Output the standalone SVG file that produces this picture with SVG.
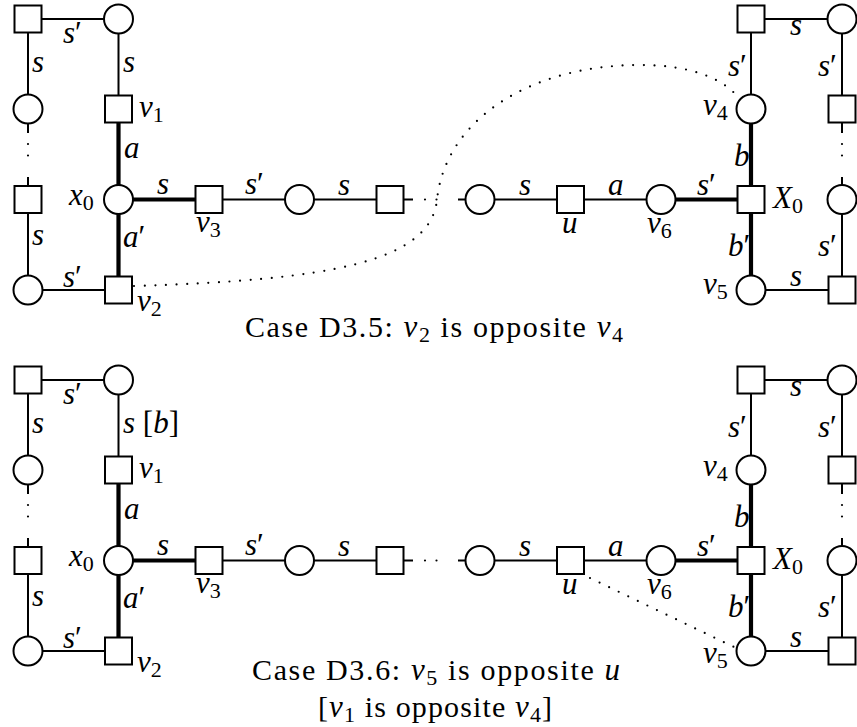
<svg xmlns="http://www.w3.org/2000/svg" xmlns:xlink="http://www.w3.org/1999/xlink" width="857" height="727" viewBox="0 0 857 727">
  <style>
    .e { stroke: #000; stroke-width: 2; fill: none; }
    .k { stroke: #000; stroke-width: 4.2; fill: none; }
    .d { stroke: #000; stroke-width: 2.2; fill: none; stroke-linecap: round; stroke-dasharray: 0 11.5; }
    .dc { stroke: #000; stroke-width: 2.2; fill: none; stroke-linecap: round; stroke-dasharray: 0 10.6; }
    .nd { fill: #fff; stroke: #000; stroke-width: 2; }
    text { font-family: 'Liberation Serif', 'Times New Roman', Times, 'DejaVu Serif', 'Noto Serif', serif; fill: #000; }
    .m { font-style: italic; font-size: 31px; }
    .r { font-style: normal; }
    .sb { font-style: normal; font-size: 22px; }
    .cap { font-size: 30px; }
  </style>
  <defs>
    <rect id="sq" class="nd" x="-13.5" y="-13.5" width="27" height="27"/>
    <circle id="ci" class="nd" r="14.5"/>
  </defs>

  <!-- ===== Case D3.5 ===== -->
  <g id="case-d35">
    <g id="d35-connectors">
      <!-- left cycle -->
      <path class="e" d="M28,19 H118.5 M28,19 V109 M28,109 V133 M28,177 V290 M28,290 H118.5 M118.5,19 V109"/>
      <path class="d" d="M28,144 V167"/>
      <!-- spine around x0 -->
      <path class="k" d="M118.5,109 V290 M118.5,199.5 H209"/>
      <!-- horizontal path -->
      <path class="e" d="M209,199.5 H413 M458,199.5 H661"/>
      <path class="d" d="M425,199.5 H448"/>
      <path class="k" d="M661,199.5 H751 M751,109 V290"/>
      <!-- right cycle -->
      <path class="e" d="M751,19 H842 M751,19 V109 M842,19 V133 M842,177 V290 M751,290 H842"/>
      <path class="d" d="M842,144 V167"/>
      <!-- v2 opposite v4 -->
      <path class="dc" d="M134,286 C330,280 430,262 437,200 C445,120 530,65 640,65 C690,65 722,78 738,97"/>
      <!-- edge labels -->
      <text class="m" x="63" y="43">s<tspan class="r">′</tspan></text>
      <text class="m" x="32" y="72">s</text>
      <text class="m" x="123" y="72">s</text>
      <text class="m" x="124" y="158">a</text>
      <text class="m" x="157" y="194">s</text>
      <text class="m" x="123" y="247">a<tspan class="r">′</tspan></text>
      <text class="m" x="32" y="245">s</text>
      <text class="m" x="63" y="287">s<tspan class="r">′</tspan></text>
      <text class="m" x="245" y="194">s<tspan class="r">′</tspan></text>
      <text class="m" x="338" y="195">s</text>
      <text class="m" x="519" y="195">s</text>
      <text class="m" x="608" y="195">a</text>
      <text class="m" x="697" y="195">s<tspan class="r">′</tspan></text>
      <text class="m" x="728" y="76">s<tspan class="r">′</tspan></text>
      <text class="m" x="790" y="35">s</text>
      <text class="m" x="818" y="76">s<tspan class="r">′</tspan></text>
      <text class="m" x="734" y="166">b</text>
      <text class="m" x="728" y="256">b<tspan class="r">′</tspan></text>
      <text class="m" x="818" y="256">s<tspan class="r">′</tspan></text>
      <text class="m" x="790" y="286">s</text>
    </g>
    <!-- left cycle nodes -->
    <g id="d35-l1"><use xlink:href="#sq" x="28" y="19"/></g>
    <g id="d35-l2"><use xlink:href="#ci" x="28" y="109"/></g>
    <g id="d35-l3"><use xlink:href="#sq" x="28" y="199.5"/></g>
    <g id="d35-l4"><use xlink:href="#ci" x="28" y="290"/></g>
    <g id="d35-top"><use xlink:href="#ci" x="118.5" y="19"/></g>
    <g id="d35-v1"><use xlink:href="#sq" x="118.5" y="109"/>
      <text class="m" x="139" y="117">v<tspan class="sb" dy="5">1</tspan></text></g>
    <g id="d35-x0"><use xlink:href="#ci" x="118.5" y="199.5"/>
      <text class="m" x="69" y="205">x<tspan class="sb" dy="5">0</tspan></text></g>
    <g id="d35-v2"><use xlink:href="#sq" x="118.5" y="290"/>
      <text class="m" x="137" y="311">v<tspan class="sb" dy="5">2</tspan></text></g>
    <!-- horizontal path nodes -->
    <g id="d35-v3"><use xlink:href="#sq" x="209" y="199.5"/>
      <text class="m" x="196" y="232">v<tspan class="sb" dy="5">3</tspan></text></g>
    <g id="d35-h1"><use xlink:href="#ci" x="299.5" y="199.5"/></g>
    <g id="d35-h2"><use xlink:href="#sq" x="390" y="199.5"/></g>
    <g id="d35-h3"><use xlink:href="#ci" x="480" y="199.5"/></g>
    <g id="d35-u"><use xlink:href="#sq" x="570.5" y="199.5"/>
      <text class="m" x="562" y="233">u</text></g>
    <g id="d35-v6"><use xlink:href="#ci" x="661" y="199.5"/>
      <text class="m" x="647" y="233">v<tspan class="sb" dy="5">6</tspan></text></g>
    <!-- right cycle nodes -->
    <g id="d35-r0"><use xlink:href="#sq" x="751" y="19"/></g>
    <g id="d35-v4"><use xlink:href="#ci" x="751" y="109"/>
      <text class="m" x="703" y="115">v<tspan class="sb" dy="5">4</tspan></text></g>
    <g id="d35-X0"><use xlink:href="#sq" x="751" y="199.5"/>
      <text class="m" x="773" y="208">X<tspan class="sb" dy="5">0</tspan></text></g>
    <g id="d35-v5"><use xlink:href="#ci" x="751" y="290"/>
      <text class="m" x="703" y="294">v<tspan class="sb" dy="5">5</tspan></text></g>
    <g id="d35-r1"><use xlink:href="#ci" x="842" y="19"/></g>
    <g id="d35-r2"><use xlink:href="#sq" x="842" y="109"/></g>
    <g id="d35-r3"><use xlink:href="#ci" x="842" y="199.5"/></g>
    <g id="d35-r4"><use xlink:href="#sq" x="842" y="290"/></g>
    <text class="cap" x="245" y="337" textLength="378" lengthAdjust="spacing">Case D3.5: <tspan class="m">v</tspan><tspan class="sb" dy="5">2</tspan><tspan dy="-5"> is opposite </tspan><tspan class="m">v</tspan><tspan class="sb" dy="5">4</tspan></text>
  </g>

  <!-- ===== Case D3.6 ===== -->
  <g id="case-d36" transform="translate(0,361)">
    <g id="d36-connectors">
      <path class="e" d="M28,19 H118.5 M28,19 V109 M28,109 V133 M28,177 V290 M28,290 H118.5 M118.5,19 V109"/>
      <path class="d" d="M28,144 V167"/>
      <path class="k" d="M118.5,109 V290 M118.5,199.5 H209"/>
      <path class="e" d="M209,199.5 H413 M458,199.5 H661"/>
      <path class="d" d="M425,199.5 H448"/>
      <path class="k" d="M661,199.5 H751 M751,109 V290"/>
      <path class="e" d="M751,19 H842 M751,19 V109 M842,19 V133 M842,177 V290 M751,290 H842"/>
      <path class="d" d="M842,144 V167"/>
      <!-- v5 opposite u -->
      <path class="dc" d="M590,217 L734,286"/>
      <text class="m" x="63" y="43">s<tspan class="r">′</tspan></text>
      <text class="m" x="32" y="72">s</text>
      <text class="m" x="123" y="72">s<tspan class="r"> [</tspan>b<tspan class="r">]</tspan></text>
      <text class="m" x="124" y="158">a</text>
      <text class="m" x="157" y="194">s</text>
      <text class="m" x="123" y="247">a<tspan class="r">′</tspan></text>
      <text class="m" x="32" y="245">s</text>
      <text class="m" x="63" y="287">s<tspan class="r">′</tspan></text>
      <text class="m" x="245" y="194">s<tspan class="r">′</tspan></text>
      <text class="m" x="338" y="195">s</text>
      <text class="m" x="519" y="195">s</text>
      <text class="m" x="608" y="195">a</text>
      <text class="m" x="697" y="195">s<tspan class="r">′</tspan></text>
      <text class="m" x="728" y="76">s<tspan class="r">′</tspan></text>
      <text class="m" x="790" y="35">s</text>
      <text class="m" x="818" y="76">s<tspan class="r">′</tspan></text>
      <text class="m" x="734" y="166">b</text>
      <text class="m" x="728" y="256">b<tspan class="r">′</tspan></text>
      <text class="m" x="818" y="256">s<tspan class="r">′</tspan></text>
      <text class="m" x="790" y="286">s</text>
    </g>
    <g id="d36-l1"><use xlink:href="#sq" x="28" y="19"/></g>
    <g id="d36-l2"><use xlink:href="#ci" x="28" y="109"/></g>
    <g id="d36-l3"><use xlink:href="#sq" x="28" y="199.5"/></g>
    <g id="d36-l4"><use xlink:href="#ci" x="28" y="290"/></g>
    <g id="d36-top"><use xlink:href="#ci" x="118.5" y="19"/></g>
    <g id="d36-v1"><use xlink:href="#sq" x="118.5" y="109"/>
      <text class="m" x="139" y="117">v<tspan class="sb" dy="5">1</tspan></text></g>
    <g id="d36-x0"><use xlink:href="#ci" x="118.5" y="199.5"/>
      <text class="m" x="69" y="205">x<tspan class="sb" dy="5">0</tspan></text></g>
    <g id="d36-v2"><use xlink:href="#sq" x="118.5" y="290"/>
      <text class="m" x="137" y="311">v<tspan class="sb" dy="5">2</tspan></text></g>
    <g id="d36-v3"><use xlink:href="#sq" x="209" y="199.5"/>
      <text class="m" x="196" y="232">v<tspan class="sb" dy="5">3</tspan></text></g>
    <g id="d36-h1"><use xlink:href="#ci" x="299.5" y="199.5"/></g>
    <g id="d36-h2"><use xlink:href="#sq" x="390" y="199.5"/></g>
    <g id="d36-h3"><use xlink:href="#ci" x="480" y="199.5"/></g>
    <g id="d36-u"><use xlink:href="#sq" x="570.5" y="199.5"/>
      <text class="m" x="562" y="233">u</text></g>
    <g id="d36-v6"><use xlink:href="#ci" x="661" y="199.5"/>
      <text class="m" x="647" y="233">v<tspan class="sb" dy="5">6</tspan></text></g>
    <g id="d36-r0"><use xlink:href="#sq" x="751" y="19"/></g>
    <g id="d36-v4"><use xlink:href="#ci" x="751" y="109"/>
      <text class="m" x="703" y="115">v<tspan class="sb" dy="5">4</tspan></text></g>
    <g id="d36-X0"><use xlink:href="#sq" x="751" y="199.5"/>
      <text class="m" x="773" y="208">X<tspan class="sb" dy="5">0</tspan></text></g>
    <g id="d36-v5"><use xlink:href="#ci" x="751" y="290"/>
      <text class="m" x="703" y="302">v<tspan class="sb" dy="5">5</tspan></text></g>
    <g id="d36-r1"><use xlink:href="#ci" x="842" y="19"/></g>
    <g id="d36-r2"><use xlink:href="#sq" x="842" y="109"/></g>
    <g id="d36-r3"><use xlink:href="#ci" x="842" y="199.5"/></g>
    <g id="d36-r4"><use xlink:href="#sq" x="842" y="290"/></g>
    <text class="cap" x="252" y="319" textLength="368" lengthAdjust="spacing">Case D3.6: <tspan class="m">v</tspan><tspan class="sb" dy="5">5</tspan><tspan dy="-5"> is opposite </tspan><tspan class="m">u</tspan></text>
    <text class="cap" x="318" y="356" textLength="234" lengthAdjust="spacing">[<tspan class="m">v</tspan><tspan class="sb" dy="5">1</tspan><tspan dy="-5"> is opposite </tspan><tspan class="m">v</tspan><tspan class="sb" dy="5">4</tspan><tspan dy="-5">]</tspan></text>
  </g>
</svg>
